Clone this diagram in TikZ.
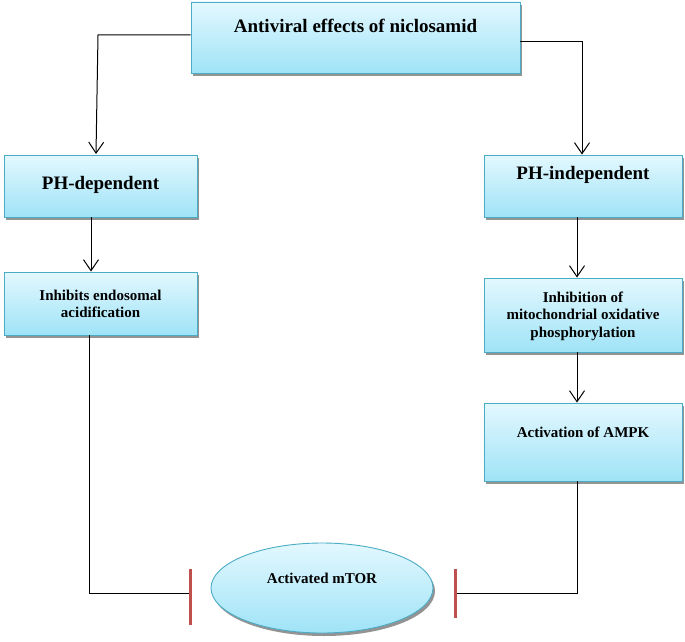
\documentclass[tikz,border=0pt]{standalone}
\usepackage{fontspec}
\setmainfont{Liberation Serif}
\usetikzlibrary{arrows.meta,shadows,shapes.geometric}
\definecolor{boxtop}{HTML}{E3F8FE}
\definecolor{boxbot}{HTML}{9FE3F7}
\definecolor{boxline}{HTML}{4BACC6}
\definecolor{barred}{HTML}{C0504D}
\tikzset{
  boxstyle/.style={draw=boxline, line width=0.9pt, top color=boxtop, bottom color=boxbot,
    drop shadow={shadow xshift=2pt, shadow yshift=-3pt, fill=black!50, opacity=0.85}, inner sep=0pt},
  bigtxt/.style={font=\fontsize{19}{22}\selectfont\bfseries, inner sep=0pt, align=center},
  smalltxt/.style={font=\fontsize{15}{17.5}\selectfont\bfseries, inner sep=0pt, align=center},
  conn/.style={draw=black, line width=1pt},
  arr/.style={conn, -{Straight Barb[length=11pt, width=15pt, line width=1pt]}},
  inhib/.style={draw=barred, line width=3pt},
}
\begin{document}
\begin{tikzpicture}[x=1pt,y=-1pt]
\useasboundingbox (0,0) rectangle (685,642);
% boxes
\node[boxstyle, minimum width=329pt, minimum height=71pt] (top) at (355.5,37.5) {};
\node[bigtxt] (toptxt) at (355.5,26) {Antiviral effects of niclosamid};
\node[boxstyle, minimum width=193pt, minimum height=62pt] (phdep) at (100.5,186) {};
\node[bigtxt] (phdeptxt) at (100.5,185) {PH-dependent};
\node[boxstyle, minimum width=193pt, minimum height=63pt] (inhb) at (100.5,303.5) {};
\node[smalltxt] (inhbtxt) at (100.5,304) {Inhibits endosomal\\acidification};
\node[boxstyle, minimum width=198pt, minimum height=62pt] (phind) at (583,186) {};
\node[bigtxt] (phindtxt) at (583,175) {PH-independent};
\node[boxstyle, minimum width=198pt, minimum height=74pt] (mito) at (583,315) {};
\node[smalltxt] (mitotxt) at (583,316) {Inhibition of\\mitochondrial oxidative\\phosphorylation};
\node[boxstyle, minimum width=198pt, minimum height=78pt] (ampk) at (583,442) {};
\node[smalltxt] (ampktxt) at (583,432) {Activation of AMPK};
\node[boxstyle, ellipse, minimum width=222pt, minimum height=90pt] (mtor) at (322,588) {};
\node[smalltxt] (mtortxt) at (322,578) {Activated mTOR};
% coordinates
\coordinate (tlc) at (98,35);
\coordinate (trc) at (582,42);
\coordinate (lx) at (91,0);
\coordinate (rx) at (577,0);
\coordinate (lbend) at (89,593);
\coordinate (rbend) at (577,593);
\coordinate (lbarT) at (190,569);
\coordinate (lbarB) at (190,625);
\coordinate (rbarT) at (455,569);
\coordinate (rbarB) at (455,618);
\coordinate (lbar) at (190,593);
\coordinate (rbar) at (455,593);
% connectors
\draw[arr] (top.west |- tlc) -- (tlc) -- (96,154);
\draw[arr] (top.east |- trc) -- (trc) -- (trc |- phind.north);
\draw[arr] (phdep.south -| lx) -- (inhb.north -| lx);
\draw[arr] (phind.south -| rx) -- (mito.north -| rx);
\draw[arr] (mito.south -| rx) -- (ampk.north -| rx);
\draw[conn] (inhb.south -| lbend) -- (lbend) -- (lbar);
\draw[conn] (ampk.south -| rbend) -- (rbend) -- (rbar);
\draw[inhib] (lbarT) -- (lbarB);
\draw[inhib] (rbarT) -- (rbarB);
\end{tikzpicture}
\end{document}
